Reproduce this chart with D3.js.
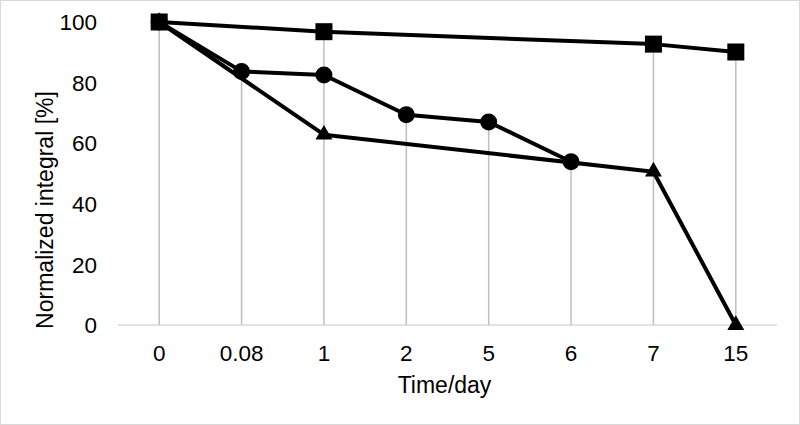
<!DOCTYPE html>
<html>
<head>
<meta charset="utf-8">
<script src="https://cdn.jsdelivr.net/npm/d3@7"></script>
<style>
  body { margin: 0; background: #fff; }
  svg { font-family: "Liberation Sans", Arial, sans-serif; }
</style>
</head>
<body>
<div id="chart-area"></div>
<script>
// Data
const categories = ["0", "0.08", "1", "2", "5", "6", "7", "15"]
const squareValues = [100, null, 96.8, null, null, null, 92.7, 90.1]
const circleValues = [100, 83.7, 82.5, 69.4, 67.0, 53.9, null, null]
const triangleValues = [100, null, 62.8, null, null, null, 50.6, 0]
const yTicks = [0, 20, 40, 60, 80, 100]

const MARGIN = { LEFT: 118, RIGHT: 23, TOP: 22, BOTTOM: 100 }
const WIDTH = 800 - MARGIN.LEFT - MARGIN.RIGHT
const HEIGHT = 425 - MARGIN.TOP - MARGIN.BOTTOM

const svg = d3.select("#chart-area").append("svg")
    .attr("width", 800)
    .attr("height", 425)

// chart border
svg.append("rect")
    .attr("x", 0.5).attr("y", 0.5)
    .attr("width", 799).attr("height", 424)
    .attr("fill", "#fff")
    .attr("stroke", "#d9d9d9")

const g = svg.append("g")
    .attr("transform", `translate(${MARGIN.LEFT}, ${MARGIN.TOP})`)

// Scales
const x = d3.scaleBand()
    .domain(categories)
    .range([0, WIDTH])

const y = d3.scaleLinear()
    .domain([0, 100])
    .range([HEIGHT, 0])

const cx = c => x(c) + x.bandwidth() / 2

// X axis line
g.append("line")
    .attr("x1", 0).attr("x2", WIDTH)
    .attr("y1", HEIGHT).attr("y2", HEIGHT)
    .attr("stroke", "#d9d9d9")
    .attr("stroke-width", 1.5)

// Drop lines from highest point
const series = [squareValues, circleValues, triangleValues]
const maxes = categories.map((c, i) => ({
    cat: c,
    v: d3.max(series, s => s[i])
}))
g.selectAll(".drop")
    .data(maxes)
    .enter().append("line")
    .attr("class", "drop")
    .attr("x1", d => cx(d.cat)).attr("x2", d => cx(d.cat))
    .attr("y1", d => y(d.v)).attr("y2", HEIGHT)
    .attr("stroke", "#bfbfbf")
    .attr("stroke-width", 1.5)

// Y tick labels
g.selectAll(".ytick")
    .data(yTicks)
    .enter().append("text")
    .attr("class", "ytick")
    .attr("x", -21)
    .attr("y", d => y(d))
    .attr("dy", "0.36em")
    .attr("text-anchor", "end")
    .attr("font-size", "22.5px")
    .attr("fill", "#000")
    .text(d => d)

// X tick labels
g.selectAll(".xtick")
    .data(categories)
    .enter().append("text")
    .attr("class", "xtick")
    .attr("x", d => cx(d))
    .attr("y", HEIGHT + 28)
    .attr("dy", "0.36em")
    .attr("text-anchor", "middle")
    .attr("font-size", "22.5px")
    .attr("fill", "#000")
    .text(d => d)

// Axis titles
g.append("text")
    .attr("x", WIDTH / 2 - 3)
    .attr("y", HEIGHT + 68)
    .attr("text-anchor", "middle")
    .attr("font-size", "23px")
    .text("Time/day")

g.append("text")
    .attr("transform", "rotate(-90)")
    .attr("x", -188)
    .attr("y", -65)
    .attr("text-anchor", "middle")
    .attr("font-size", "23px")
    .text("Normalized integral [%]")

// Lines
const line = d3.line()
    .x(d => cx(d.cat))
    .y(d => y(d.v))

const toPoints = vals => categories
    .map((c, i) => ({ cat: c, v: vals[i] }))
    .filter(d => d.v !== null)

const lineOrder = [triangleValues, circleValues, squareValues]
lineOrder.forEach(vals => {
    g.append("path")
        .datum(toPoints(vals))
        .attr("d", line)
        .attr("fill", "none")
        .attr("stroke", "#000")
        .attr("stroke-width", 4)
        .attr("stroke-linejoin", "round")
})

// Markers
g.selectAll(".tri")
    .data(toPoints(triangleValues))
    .enter().append("path")
    .attr("class", "tri")
    .attr("transform", d => `translate(${cx(d.cat)}, ${y(d.v)})`)
    .attr("d", d3.symbol(d3.symbolTriangle, 125))
    .attr("fill", "#000")

g.selectAll(".circ")
    .data(toPoints(circleValues))
    .enter().append("circle")
    .attr("class", "circ")
    .attr("cx", d => cx(d.cat))
    .attr("cy", d => y(d.v))
    .attr("r", 8.5)
    .attr("fill", "#000")

g.selectAll(".sq")
    .data(toPoints(squareValues))
    .enter().append("rect")
    .attr("class", "sq")
    .attr("x", d => cx(d.cat) - 8.5)
    .attr("y", d => y(d.v) - 8.5)
    .attr("width", 17)
    .attr("height", 17)
    .attr("fill", "#000")
</script>
</body>
</html>
